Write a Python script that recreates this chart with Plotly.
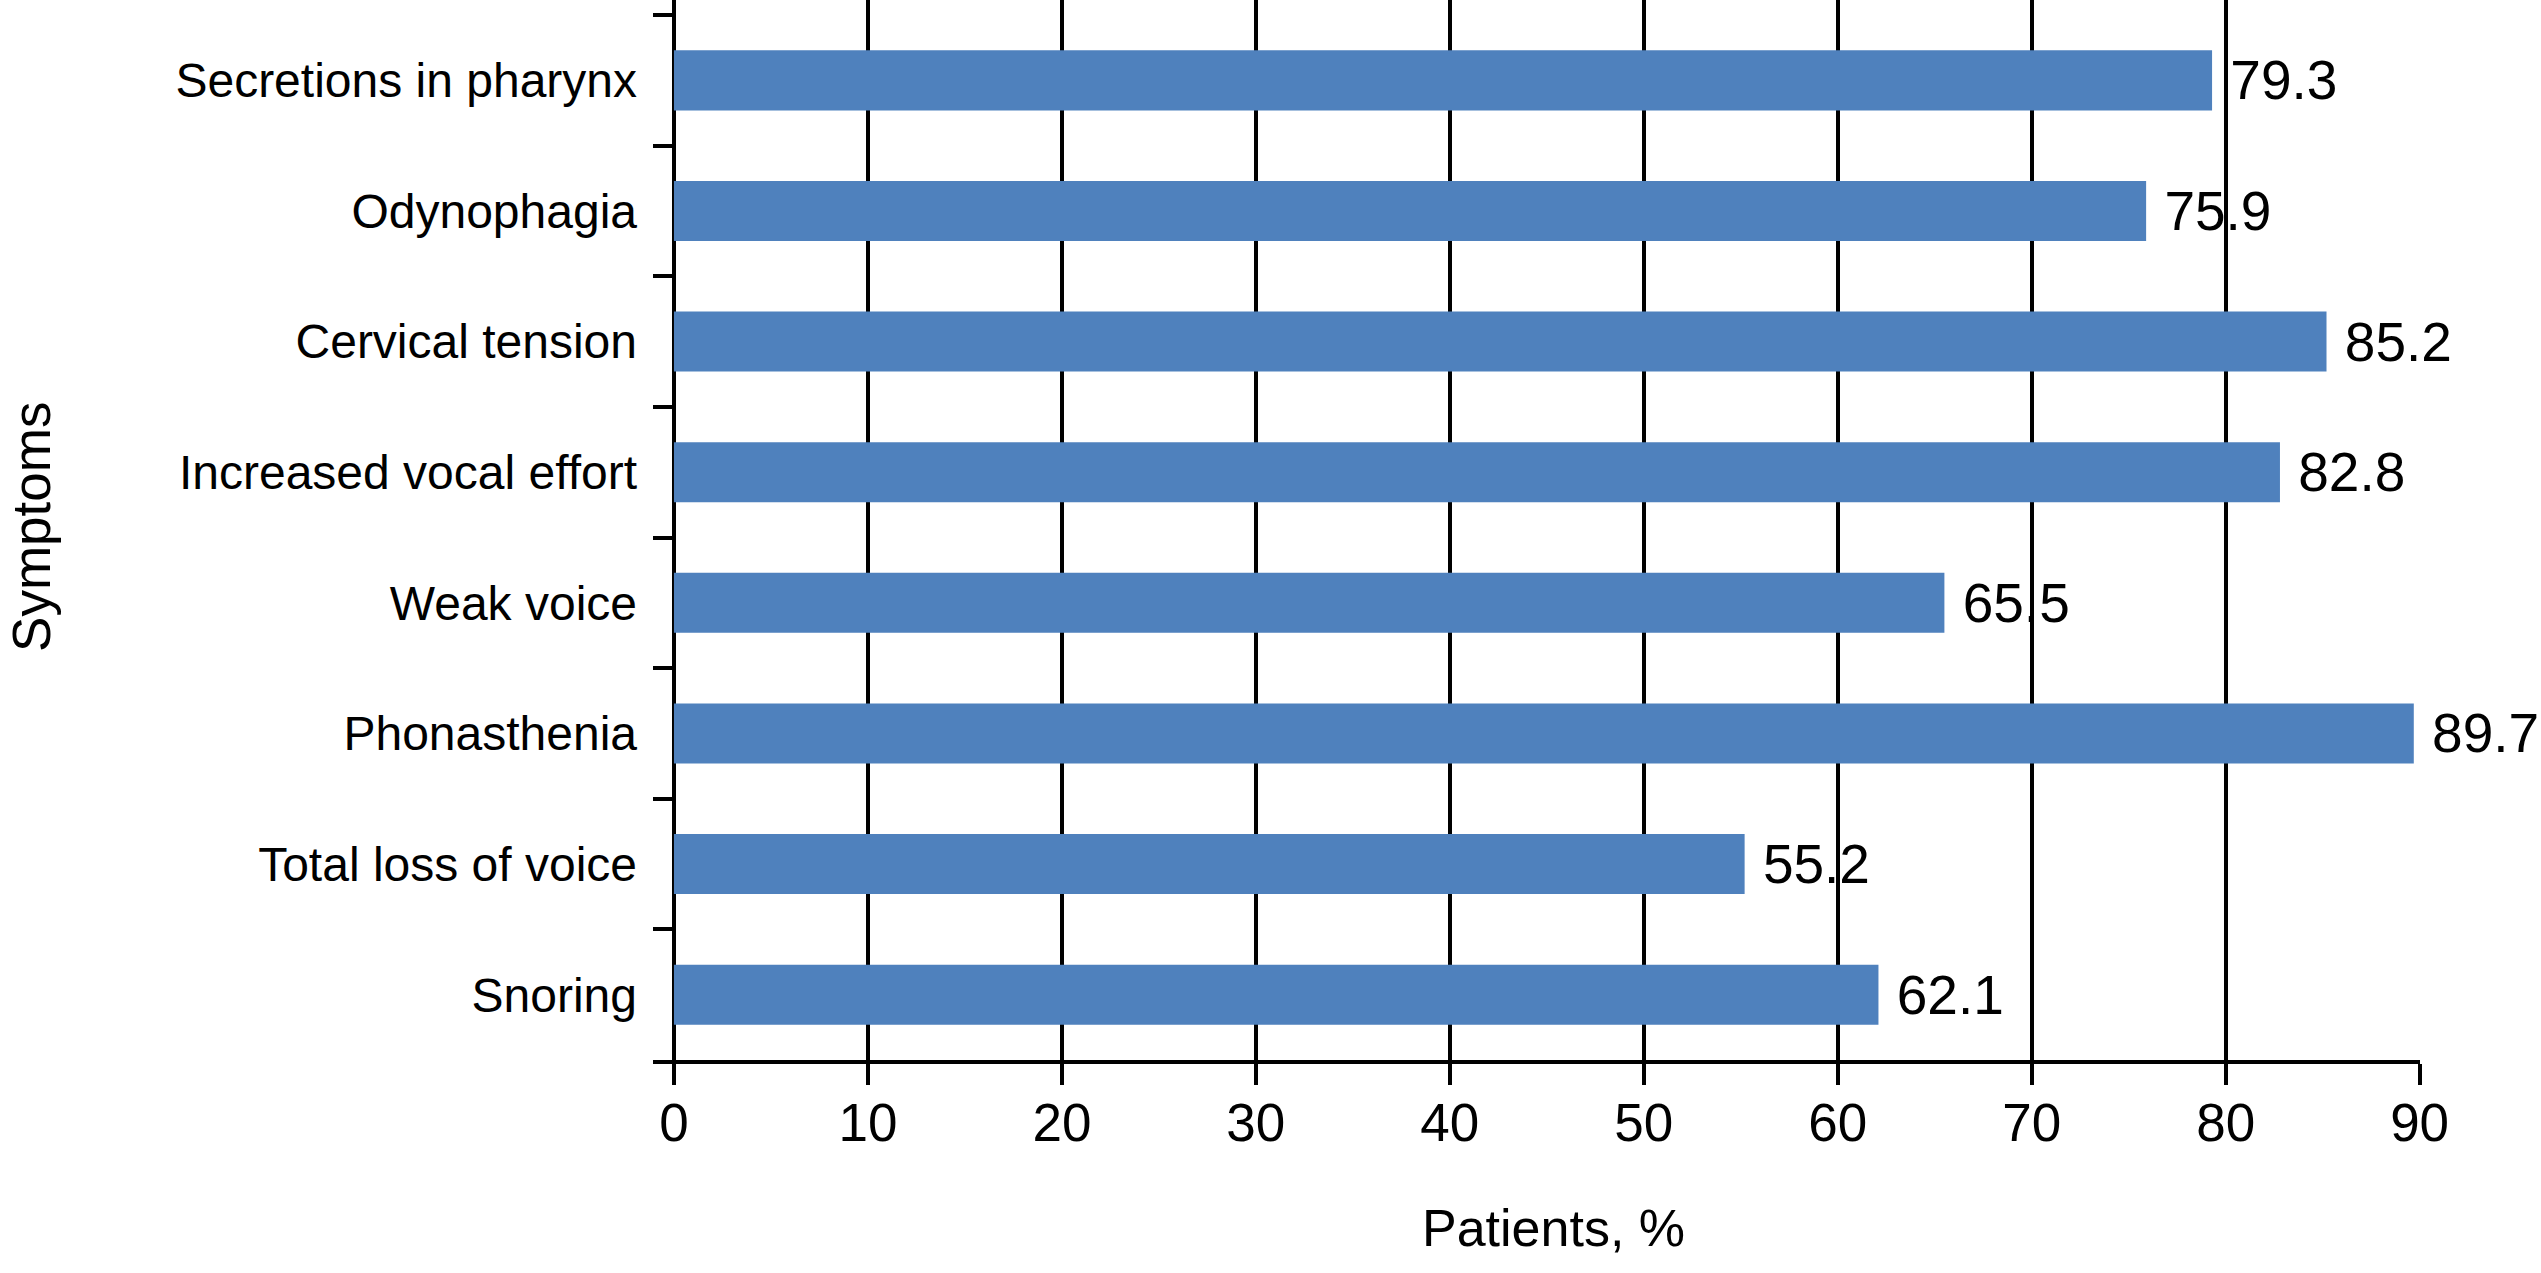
import plotly.graph_objs as go

# Data (bottom to top, as plotted)
symptoms = ['Snoring', 'Total loss of voice', 'Phonasthenia', 'Weak voice',
            'Increased vocal effort', 'Cervical tension', 'Odynophagia',
            'Secretions in pharynx']
patients_pct = [62.1, 55.2, 89.7, 65.5, 82.8, 85.2, 75.9, 79.3]
x_ticks = [0, 10, 20, 30, 40, 50, 60, 70, 80, 90]

bar_color = 'rgb(79, 129, 189)'
font_family = 'Liberation Sans, Arial, Helvetica, sans-serif'

fig = go.Figure()

fig.add_trace(go.Bar(
    x=patients_pct, y=symptoms, orientation='h',
    marker_color=bar_color, marker_line_width=0,
    width=0.46,
    texttemplate='\u00a0%{x:.1f}', textposition='outside',
    textfont=dict(family=font_family, size=55, color='black'),
    constraintext='none', cliponaxis=False,
    showlegend=False,
))

fig.update_layout(
    width=2541, height=1273,
    margin=dict(l=653, r=121, t=0, b=213, autoexpand=False),
    paper_bgcolor='white', plot_bgcolor='white',
    font=dict(family=font_family, color='black'),
    bargap=0.54,
)

# Оси
fig.update_xaxes(
    range=[-1.08, 90.02], tickvals=x_ticks,
    showgrid=True, gridcolor='black', gridwidth=3.5,
    zeroline=False,
    showline=True, linecolor='black', linewidth=3.5,
    ticks='outside', ticklen=21, tickwidth=3.5, tickcolor='black',
    tickfont=dict(family=font_family, size=53, color='black'),
    ticklabelstandoff=-7,
)
fig.update_yaxes(
    type='category', range=[-0.5, 7.615],
    showgrid=False, zeroline=False, showline=False,
    tickson='boundaries', ticks='inside', ticklen=21, tickwidth=3.5,
    tickcolor='black',
    tickfont=dict(family=font_family, size=48, color='black'),
    ticklabelstandoff=15,
)

# Подписи осей
fig.add_annotation(text='Symptoms', textangle=-90, showarrow=False,
                   xref='paper', yref='paper', x=-0.3514, y=0.503,
                   xanchor='center', yanchor='middle',
                   font=dict(family=font_family, size=53, color='black'))
fig.add_annotation(text='Patients, %', showarrow=False,
                   xref='paper', yref='paper', x=0.5099, y=-0.1585,
                   xanchor='center', yanchor='middle',
                   font=dict(family=font_family, size=52, color='black'))

fig.write_html('out.html', config={'displayModeBar': False},
               post_script="document.body.style.margin='0';")
